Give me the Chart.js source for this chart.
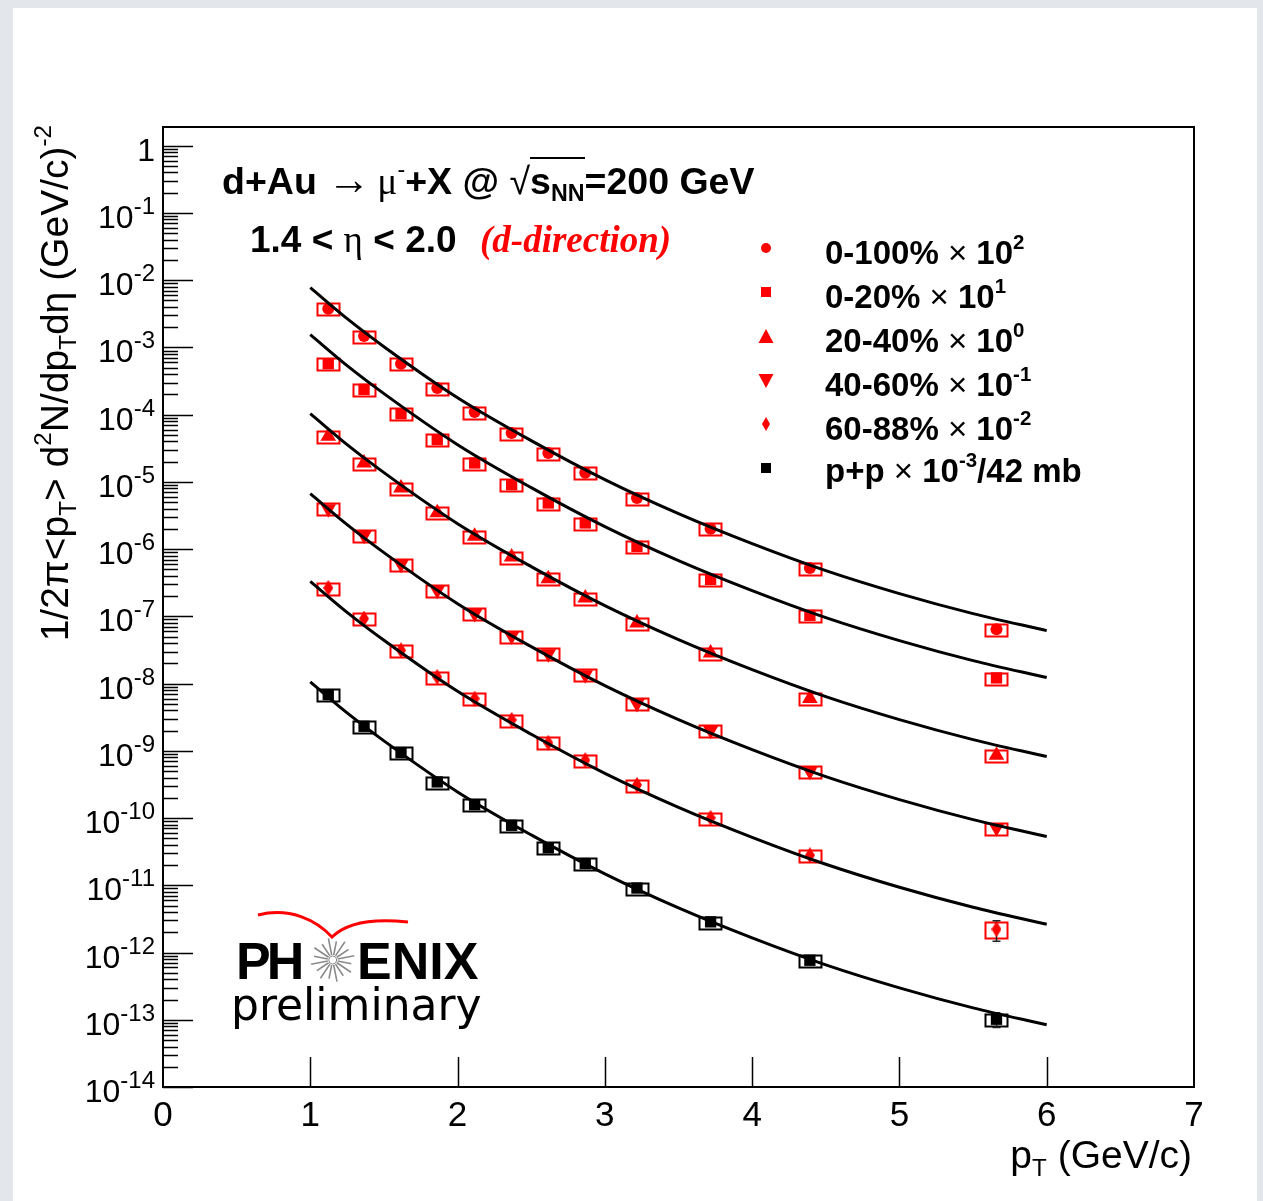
<!DOCTYPE html>
<html><head><meta charset="utf-8">
<script src="https://cdn.jsdelivr.net/npm/chart.js@4/dist/chart.umd.min.js"></script>
<style>
html,body{margin:0;padding:0;}
body{width:1263px;height:1201px;background:#e3e6eb;position:relative;overflow:hidden;font-family:"Liberation Sans",Arial,Helvetica,sans-serif;}
#paper{position:absolute;left:13px;top:8px;width:1244px;height:1193px;background:#fff;}
#wrap{position:absolute;left:0;top:0;width:1263px;height:1201px;}
.t{position:absolute;white-space:nowrap;color:#000;line-height:1;}
.b{font-weight:bold;}
.n{font-weight:normal;}
sup{font-size:0.62em;vertical-align:0.72em;line-height:0;}
sub{font-size:0.62em;vertical-align:-0.32em;line-height:0;}
.serif{font-family:"Liberation Serif","Times New Roman",serif;}
</style></head>
<body>
<div id="paper"></div>
<div id="wrap"><canvas id="c" width="1263" height="1201"></canvas></div>

<div class="t b" style="left:222px;top:163px;font-size:37.5px;">d+Au <span class="n" style="font-size:1.15em;line-height:0;margin-right:7px;">→</span><span class="n serif">μ</span><sup class="n">-</sup>+X @ <span class="n">√</span><span style="border-top:2px solid #000;padding-top:1px;">s<sub>NN</sub></span>=200 GeV</div>
<div class="t b" style="left:250px;top:220.5px;font-size:37px;">1.4 &lt; <span class="n serif">η</span> &lt; 2.0</div>
<div class="t serif" style="left:480px;top:221px;font-size:37px;color:#ff0000;font-weight:bold;font-style:italic;">(d-direction)</div>

<div class="t b" style="left:825px;top:236px;font-size:33px;">0-100% <span class="n">×</span> 10<sup>2</sup></div>
<div class="t b" style="left:825px;top:280px;font-size:33px;">0-20% <span class="n">×</span> 10<sup>1</sup></div>
<div class="t b" style="left:825px;top:324px;font-size:33px;">20-40% <span class="n">×</span> 10<sup>0</sup></div>
<div class="t b" style="left:825px;top:368px;font-size:33px;">40-60% <span class="n">×</span> 10<sup>-1</sup></div>
<div class="t b" style="left:825px;top:412px;font-size:33px;">60-88% <span class="n">×</span> 10<sup>-2</sup></div>
<div class="t b" style="left:825px;top:454px;font-size:33px;">p+p <span class="n">×</span> 10<sup>-3</sup>/42 mb</div>

<div class="t" style="right:71px;top:1135px;font-size:39px;">p<sub>T</sub> (GeV/c)</div>
<div class="t" style="left:35px;top:825px;width:700px;text-align:right;font-size:39px;transform-origin:0 0;transform:rotate(-90deg);">1/2π&lt;p<sub>T</sub>&gt; d<sup>2</sup>N/dp<sub>T</sub>dη (GeV/c)<sup>-2</sup></div>

<svg style="position:absolute;left:0;top:0;" width="1263" height="1201">
  <path d="M258,915 C290,907 316,920 332,937 C346,923 372,918 408,922" stroke="#ff0000" stroke-width="3" fill="none"/>
  <g stroke="#8a8a8a" stroke-width="1.6" id="burst"></g>
  <circle cx="332.7" cy="960" r="4" fill="#fff" stroke="#8a8a8a" stroke-width="1"/>
</svg>
<div class="t b" style="left:236px;top:935px;font-size:52px;letter-spacing:-4px;">PH</div>
<div class="t b" style="left:357px;top:935px;font-size:52px;">ENIX</div>
<div class="t" style="left:231px;top:983px;font-size:44px;font-family:'DejaVu Sans',sans-serif;">preliminary</div>

<script>
// ---------------- data ----------------
const pT = [1.122, 1.365, 1.616, 1.862, 2.116, 2.367, 2.616, 2.867, 3.218, 3.718, 4.392, 5.659];
const y0_100 = [3.77e-3, 1.48e-3, 5.73e-4, 2.49e-4, 1.097e-4, 5.35e-5, 2.69e-5, 1.372e-5, 5.77e-6, 2.017e-6, 5.25e-7, 6.42e-8];
const y0_20  = [5.73e-4, 2.378e-4, 1.035e-4, 4.25e-5, 1.913e-5, 9.10e-6, 4.86e-6, 2.452e-6, 1.10e-6, 3.555e-7, 1.037e-7, 1.216e-8];
const y20_40 = [4.79e-5, 1.913e-5, 8.13e-6, 3.49e-6, 1.55e-6, 7.66e-7, 3.64e-7, 1.88e-7, 7.99e-8, 2.86e-8, 5.98e-9, 8.59e-10];
const y40_60 = [4.00e-6, 1.604e-6, 5.94e-7, 2.44e-7, 1.099e-7, 5.12e-8, 2.79e-8, 1.36e-8, 5.04e-9, 2.02e-9, 4.96e-10, 7.15e-11];
const y60_88 = [2.65e-7, 9.26e-8, 3.13e-8, 1.258e-8, 5.98e-9, 2.885e-9, 1.317e-9, 7.29e-10, 3.12e-10, 1.007e-10, 2.80e-11, 2.22e-12];
const ypp    = [6.86e-9, 2.318e-9, 9.42e-10, 3.45e-10, 1.587e-10, 7.81e-11, 3.61e-11, 2.105e-11, 9.10e-12, 2.86e-12, 7.68e-13, 1.019e-13];

const sysRel     = [0.2, 0.2, 0.2, 0.2, 0.2, 0.2, 0.2, 0.2, 0.2, 0.2, 0.2, 0.2];
const sysRel60_88= [0.2, 0.2, 0.2, 0.2, 0.2, 0.2, 0.2, 0.2, 0.2, 0.2, 0.2, 0.27];
const stat60_88  = [0, 0, 0, 0, 0, 0, 0, 0, 0, 0, 0, 0.75e-12];
const statpp     = [0, 0, 0, 0, 0, 0, 0, 0, 0, 0, 0, 0.25e-13];

const fitPt   = [1.0, 1.25, 1.5, 2.0, 2.5, 3.0, 3.5, 4.0, 4.5, 5.0, 5.5, 6.0];
const fit0_100= [7.74e-3, 2.68e-3, 1.027e-3, 1.788e-4, 4.11e-5, 1.08e-5, 3.37e-6, 1.206e-6, 4.79e-7, 2.18e-7, 1.098e-7, 6.14e-8];
const fit0_20 = [1.549e-3, 5.36e-4, 2.056e-4, 3.58e-5, 8.22e-6, 2.163e-6, 6.75e-7, 2.415e-7, 9.59e-8, 4.365e-8, 2.198e-8, 1.23e-8];
const fit20_40= [1.035e-4, 3.58e-5, 1.374e-5, 2.393e-6, 5.50e-7, 1.445e-7, 4.51e-8, 1.614e-8, 6.41e-9, 2.917e-9, 1.469e-9, 8.22e-10];
const fit40_60= [6.68e-6, 2.312e-6, 8.87e-7, 1.545e-7, 3.55e-8, 9.33e-9, 2.91e-9, 1.042e-9, 4.14e-10, 1.884e-10, 9.48e-11, 5.31e-11];
const fit60_88= [3.32e-7, 1.148e-7, 4.41e-8, 7.67e-9, 1.762e-9, 4.63e-10, 1.445e-10, 5.18e-11, 2.056e-11, 9.35e-12, 4.71e-12, 2.636e-12];
const fitpp   = [1.059e-8, 3.66e-9, 1.406e-9, 2.449e-10, 5.62e-11, 1.479e-11, 4.61e-12, 1.652e-12, 6.56e-13, 2.985e-13, 1.503e-13, 8.41e-14];

const seriesNames = ['0-100% × 10^2', '0-20% × 10^1', '20-40% × 10^0', '40-60% × 10^-1', '60-88% × 10^-2', 'p+p × 10^-3/42 mb'];
const xTickValues = [0, 1, 2, 3, 4, 5, 6, 7];
const yTickValues = [1, 1e-1, 1e-2, 1e-3, 1e-4, 1e-5, 1e-6, 1e-7, 1e-8, 1e-9, 1e-10, 1e-11, 1e-12, 1e-13, 1e-14];
const yTickBase   = ['1', '10', '10', '10', '10', '10', '10', '10', '10', '10', '10', '10', '10', '10', '10'];
const yTickExp    = ['', '-1', '-2', '-3', '-4', '-5', '-6', '-7', '-8', '-9', '-10', '-11', '-12', '-13', '-14'];

// ---------------- styles ----------------
const RED = '#ff0000', BLK = '#000000';
const FONT = "'Liberation Sans', Arial, sans-serif";
function diamondCanvas(w, h, col){
  const c = document.createElement('canvas'); c.width = w; c.height = h;
  const g = c.getContext('2d'); g.fillStyle = col; g.beginPath();
  g.moveTo(w/2, 0); g.lineTo(w, h/2); g.lineTo(w/2, h); g.lineTo(0, h/2); g.closePath(); g.fill();
  return c;
}
const dia = diamondCanvas(10, 16, RED);
const dataSets = [y0_100, y0_20, y20_40, y40_60, y60_88, ypp];
const fitSets  = [fit0_100, fit0_20, fit20_40, fit40_60, fit60_88, fitpp];
const sysSets  = [sysRel, sysRel, sysRel, sysRel, sysRel60_88, sysRel];
const statSets = [null, null, null, null, stat60_88, statpp];
const styles = [
  {ps:'circle', r:6, rot:0, col:RED},
  {ps:'rect', r:8, rot:0, col:RED},
  {ps:'triangle', r:9, rot:0, col:RED},
  {ps:'triangle', r:9, rot:180, col:RED},
  {ps:dia, r:8, rot:0, col:RED},
  {ps:'rect', r:8, rot:0, col:BLK}
];
const BOX_HALF = 0.076;

// starburst for logo
(function(){
  const g = document.getElementById('burst'); const cx = 332.7, cy = 960;
  for (let k = 0; k < 16; k++){
    const a = k * Math.PI / 8 + Math.PI/16; const R = (k % 2) ? 22 : 19;
    const l = document.createElementNS('http://www.w3.org/2000/svg', 'line');
    l.setAttribute('x1', cx + 5*Math.cos(a)); l.setAttribute('y1', cy + 5*Math.sin(a));
    l.setAttribute('x2', cx + R*Math.cos(a)); l.setAttribute('y2', cy + R*Math.sin(a));
    g.appendChild(l);
  }
})();

const datasets = [];
fitSets.forEach((f, k) => {
  datasets.push({label: seriesNames[k] + ' fit', data: fitPt.map((x, i) => ({x, y: f[i]})),
    showLine: true, borderColor: BLK, borderWidth: 3, pointRadius: 0, pointHoverRadius: 0,
    cubicInterpolationMode: 'monotone', fill: false, order: 1});
});
dataSets.forEach((d, k) => {
  const s = styles[k];
  datasets.push({label: seriesNames[k], data: pT.map((x, i) => ({x, y: d[i]})), showLine: false,
    pointStyle: s.ps, pointRadius: s.r, pointRotation: s.rot, backgroundColor: s.col, borderColor: s.col,
    borderWidth: 0, pointHoverRadius: s.r, order: 2});
});

const boxPlugin = {
  id: 'sysBoxes',
  beforeDatasetsDraw(chart){
    const {ctx, chartArea: a, scales: {x, y}} = chart;
    ctx.save(); ctx.beginPath(); ctx.rect(a.left, a.top, a.right - a.left, a.bottom - a.top); ctx.clip();
    dataSets.forEach((d, k) => {
      ctx.strokeStyle = styles[k].col; ctx.lineWidth = 2;
      pT.forEach((p, i) => {
        const v = d[i], e = sysSets[k][i] * v;
        const x0 = x.getPixelForValue(p - BOX_HALF), x1 = x.getPixelForValue(p + BOX_HALF);
        const y0 = y.getPixelForValue(v + e), y1 = y.getPixelForValue(v - e);
        ctx.strokeRect(Math.round(x0) + 0.5, Math.round(y0) + 0.5, Math.round(x1 - x0), Math.round(y1 - y0));
      });
      const st = statSets[k];
      if (st) {
        ctx.strokeStyle = '#222'; ctx.lineWidth = 1.5;
        pT.forEach((p, i) => {
          if (!st[i]) return;
          const px = x.getPixelForValue(p), yt = y.getPixelForValue(d[i] + st[i]), yb = y.getPixelForValue(d[i] - st[i]);
          ctx.beginPath(); ctx.moveTo(px, yt); ctx.lineTo(px, yb);
          ctx.moveTo(px - 4, yt); ctx.lineTo(px + 4, yt); ctx.moveTo(px - 4, yb); ctx.lineTo(px + 4, yb); ctx.stroke();
        });
      }
    });
    ctx.restore();
  }
};

const framePlugin = {
  id: 'frameTicks',
  afterDraw(chart){
    const {ctx, chartArea: a, scales: {x, y}} = chart;
    ctx.save(); ctx.strokeStyle = '#000'; ctx.lineWidth = 2;
    ctx.strokeRect(a.left, a.top, a.right - a.left, a.bottom - a.top);
    ctx.lineWidth = 1.5; ctx.beginPath();
    yTickValues.forEach(v => {
      const py = Math.round(y.getPixelForValue(v)) + 0.5;
      ctx.moveTo(a.left, py); ctx.lineTo(a.left + 30, py);
      for (let m = 2; m <= 9; m++) {
        const mv = v * m; if (mv > y.max) continue;
        const pm = Math.round(y.getPixelForValue(mv)) + 0.5;
        ctx.moveTo(a.left, pm); ctx.lineTo(a.left + 15, pm);
      }
    });
    xTickValues.forEach(v => {
      if (v <= x.min || v >= x.max) return;
      const px = Math.round(x.getPixelForValue(v)) + 0.5;
      ctx.moveTo(px, a.bottom); ctx.lineTo(px, a.bottom - 30);
    });
    ctx.stroke();
    // y tick labels: base number plus raised exponent, placed by the y scale
    ctx.fillStyle = '#000'; ctx.textBaseline = 'alphabetic'; ctx.textAlign = 'left';
    const right = a.left - 8;
    yTickValues.forEach((v, i) => {
      const py = y.getPixelForValue(v);
      ctx.font = '24px ' + FONT; const ew = yTickExp[i] ? ctx.measureText(yTickExp[i]).width : 0;
      ctx.font = '32px ' + FONT; const bw = ctx.measureText(yTickBase[i]).width;
      const bx = right - ew - bw;
      ctx.fillText(yTickBase[i], bx, py + 15);
      if (ew) { ctx.font = '24px ' + FONT; ctx.fillText(yTickExp[i], right - ew, py + 1); }
    });
    // legend markers
    const lx = 766, ly = [248, 292, 337, 380, 424, 468];
    styles.forEach((s, k) => {
      ctx.fillStyle = s.col; const cx = lx, cy = ly[k];
      ctx.beginPath();
      if (s.ps === 'circle') { ctx.arc(cx, cy, 5, 0, 2*Math.PI); }
      else if (s.ps === 'rect') { ctx.rect(cx - 5, cy - 5, 10, 10); }
      else if (s.ps === 'triangle' && s.rot === 0) { ctx.moveTo(cx, cy - 8); ctx.lineTo(cx + 7.5, cy + 6); ctx.lineTo(cx - 7.5, cy + 6); ctx.closePath(); }
      else if (s.ps === 'triangle') { ctx.moveTo(cx, cy + 8); ctx.lineTo(cx + 7.5, cy - 6); ctx.lineTo(cx - 7.5, cy - 6); ctx.closePath(); }
      else { ctx.moveTo(cx, cy - 7); ctx.lineTo(cx + 4, cy); ctx.lineTo(cx, cy + 7); ctx.lineTo(cx - 4, cy); ctx.closePath(); }
      ctx.fill();
    });
    ctx.restore();
  }
};

new Chart(document.getElementById('c'), {
  type: 'scatter',
  data: {datasets},
  options: {
    responsive: false, animation: false, devicePixelRatio: 1,
    layout: {padding: {left: 0, top: 127, right: 69, bottom: 0}},
    plugins: {legend: {display: false}, tooltip: {enabled: false}, title: {display: false}},
    scales: {
      x: {type: 'linear', min: 0, max: 7, position: 'bottom',
        grid: {display: false, drawTicks: false}, border: {display: false},
        afterBuildTicks: s => { s.ticks = xTickValues.map(v => ({value: v})); },
        afterFit: s => { s.height = 114; },
        ticks: {autoSkip: false, maxRotation: 0, padding: 8, color: '#000',
          font: {family: FONT, size: 35},
          callback: v => String(v)}},
      y: {type: 'logarithmic', min: 1e-14, max: 1.9, position: 'left',
        grid: {display: false, drawTicks: false}, border: {display: false},
        afterBuildTicks: s => { s.ticks = yTickValues.map(v => ({value: v})); },
        afterFit: s => { s.width = 163; },
        ticks: {display: false, autoSkip: false}}
    }
  },
  plugins: [boxPlugin, framePlugin]
});
</script>
</body></html>
